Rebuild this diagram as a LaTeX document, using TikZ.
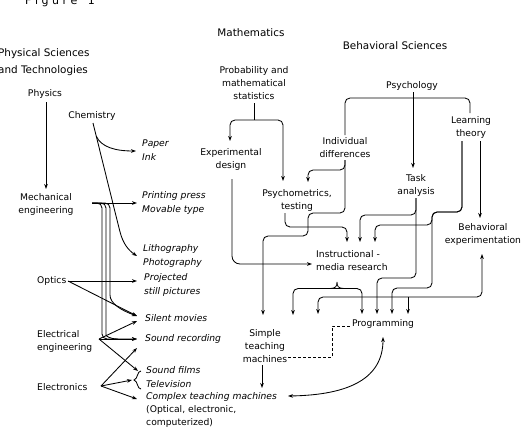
\documentclass[tikz,border=0pt]{standalone}
\usepackage{fontspec}
\setmainfont{DejaVu Sans}
\usetikzlibrary{arrows.meta}
\begin{document}
\begin{tikzpicture}[x=1pt,y=-1pt,
  lbl/.style={font=\fontsize{9.2}{13}\selectfont, inner sep=0pt, align=center},
  llbl/.style={lbl, anchor=west, align=left},
  prod/.style={font=\fontsize{9.2}{13.5}\selectfont\itshape, inner sep=0pt, align=left, anchor=west},
  head/.style={font=\fontsize{10.4}{17}\selectfont, inner sep=0pt},
  ln/.style={line width=0.85pt, rounded corners=5pt},
  arr/.style={ln, -{Stealth[length=5pt,width=3.6pt]}},
  barr/.style={ln, {Stealth[length=5pt,width=3.6pt]}-{Stealth[length=5pt,width=3.6pt]}},
  dsh/.style={line width=0.85pt, densely dashed}]
\useasboundingbox (0,0) rectangle (529,428);
\fill[white] (0,0) rectangle (529,428);

% titles
\node[font=\fontsize{11}{11}\selectfont, inner sep=0pt, anchor=base] (figure) at (60,5) {F i g u r e \ \ 1};
\node[head, anchor=west, align=left] (physsci) at (-2,62.5) {Physical Sciences\\and Technologies};
\node[head] (math) at (251,33) {Mathematics};
\node[head] (behsci) at (395,46) {Behavioral Sciences};

% left sources
\node[lbl] (physics) at (45,94) {Physics};
\node[lbl] (chem) at (92,116) {Chemistry};
\node[lbl] (mech) at (46,204) {Mechanical\\engineering};
\node[llbl] (optics) at (37,281) {Optics};
\node[llbl] (elec) at (37,341) {Electrical\\engineering};
\node[llbl] (electronics) at (37,387) {Electronics};

% products
\node[prod] (paper) at (142,150) {Paper\\Ink};
\node[prod] (printing) at (142,203) {Printing press\\Movable type};
\node[prod] (litho) at (143,256) {Lithography\\Photography};
\node[prod] (projected) at (144,285) {Projected\\still pictures};
\node[prod] (silent) at (145,318) {Silent movies};
\node[prod] (soundrec) at (145,339) {Sound recording};
\node[prod] (soundfilms) at (146,377) {Sound films\\Television};
\node[llbl] (complex) at (146,410) {\textit{Complex teaching machines}\\(Optical, electronic,\\computerized)};

% right side
\node[lbl] (prob) at (254,83) {Probability and\\mathematical\\statistics};
\node[lbl] (psych) at (412,86) {Psychology};
\node[lbl] (learn) at (471,127.5) {Learning\\theory};
\node[lbl] (expdes) at (231,159.5) {Experimental\\design};
\node[lbl] (indiv) at (345,148) {Individual\\differences};
\node[lbl] (task) at (416,185.5) {Task\\analysis};
\node[lbl] (psychom) at (297,200) {Psychometrics,\\testing};
\node[lbl] (behexp) at (483,234.5) {Behavioral\\experimentation};
\node[llbl] (instr) at (316,261) {Instructional -\\media research};
\node[lbl] (simple) at (265,346) {Simple\\teaching\\machines};
\node[lbl] (prog) at (383,324) {Programming};

% junction coordinates
\coordinate (mechO) at (92,203);
\coordinate (optO) at (68,281);
\coordinate (elecO) at (99,339);
\coordinate (etrO) at (101,386);

% ---- left connectors
\draw[arr] (46,102) -- (46,189);
\draw[arr] (93,123) -- (119,228) .. controls (123,243) and (128,250) .. (137,256);
\draw[arr] (96.2,136) .. controls (101,147) and (115,151) .. (136,151);
\draw[arr] (mechO) -- (137,203);
\draw[arr] (mechO) -- (102,203) -- (102,339) -- (137,339);
\draw[ln] (mechO) -- (106,203) -- (106,330) .. controls (106,336) and (110,339) .. (118,339);
\draw[arr] (mechO) -- (110,203) -- (110,290) .. controls (110,303) and (120,310) .. (137,316);
\draw[arr] (optO) -- (137,281);
\draw[arr] (optO) -- (137,316);
\draw[arr] (elecO) -- (137,321);
\draw[arr] (elecO) -- (137,339);
\draw[arr] (elecO) -- (138,371);
\draw[arr] (etrO) -- (137,348);
\draw[arr] (etrO) -- (132,380);
\draw[arr] (etrO) -- (137,399);
\draw[line width=0.85pt] (141,371) .. controls (137,371) and (138,379) .. (134,380) .. controls (138,381) and (137,389) .. (141,389);

% ---- right connectors
\draw[ln] (254,103) -- (254,120);
\draw[barr] (230,141) -- (230,120) -- (283,120) -- (283,181);
\draw[ln] (345,135) -- (345,98) -- (470,98) -- (470,113);
\draw[arr] (413,92) -- (413,168);
\draw[arr] (345,160) -- (345,170) -- (308,170) -- (308,182);
\draw[arr] (345,160) -- (345,213) -- (308,213) -- (308,236) -- (263,236) -- (263,315);
\draw[arr] (285,213) -- (285,227) -- (347,227) -- (347,242);
\draw[arr, rounded corners=8pt] (232,179) -- (232,264) -- (312,264);
\draw[arr] (416,198) -- (416,215) -- (360,215) -- (360,242);
\draw[arr] (416,198) -- (416,278) -- (377,278) -- (377,314);
\draw[arr] (480,141) -- (480,218);
\draw[arr] (462,141) -- (462,212) -- (432,212) -- (432,225) -- (375,225) -- (375,242);
\draw[arr] (462,141) -- (462,212) -- (432,212) -- (432,288) -- (392,288) -- (392,314);
\draw[barr] (293,315) -- (293,288.5) -- (362,288.5) -- (362,314);
\draw[line width=0.85pt] (330,288.5) .. controls (336,288.5) and (337,286) .. (337,282) .. controls (337,286) and (338,288.5) .. (344,288.5);
\draw[barr] (318,314) -- (318,297) -- (482,297) -- (482,254);
\draw[arr] (408,297) -- (408,314);
\draw[arr] (262,365) -- (262,388);
\draw[dsh] (288,357) -- (332,357) -- (332,326) -- (351,326);
\draw[barr] (288,396) .. controls (350,395) and (383,378) .. (383,337);
\end{tikzpicture}
\end{document}
